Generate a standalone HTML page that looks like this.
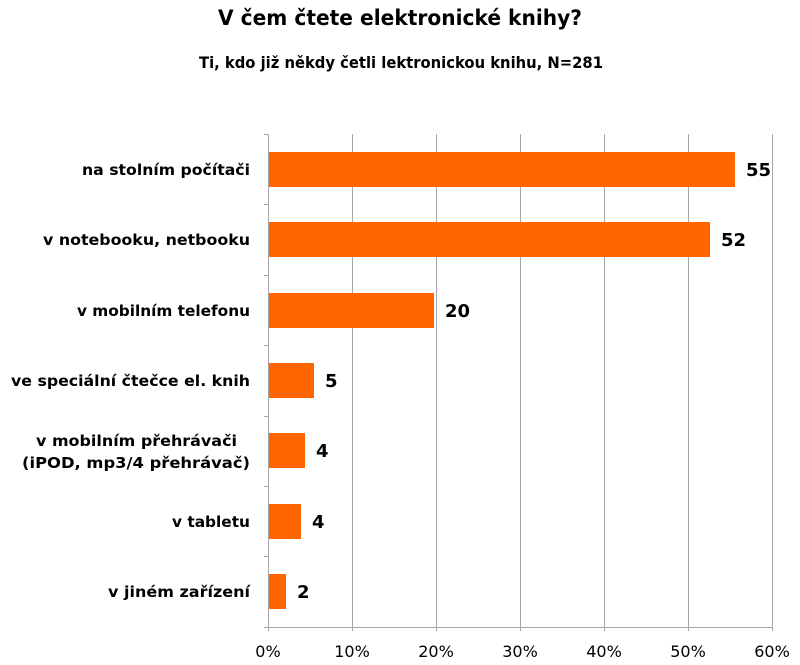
<!DOCTYPE html>
<html><head><meta charset="utf-8"><style>
html,body{margin:0;padding:0;background:#fff;}
svg{display:block;}
text{font-family:"DejaVu Sans","Liberation Sans",sans-serif;font-weight:bold;fill:#000;}
</style></head><body>
<svg width="800" height="665" viewBox="0 0 800 665" xmlns="http://www.w3.org/2000/svg">
<text x="400" y="25" text-anchor="middle" font-size="21" textLength="364" lengthAdjust="spacingAndGlyphs">V čem čtete elektronické knihy?</text>
<text x="401" y="68" text-anchor="middle" font-size="16" textLength="404" lengthAdjust="spacingAndGlyphs">Ti, kdo již někdy četli lektronickou knihu, N=281</text>
<g stroke="#a6a6a6" stroke-width="1">
<line x1="352.5" y1="134" x2="352.5" y2="627"/>
<line x1="436.5" y1="134" x2="436.5" y2="627"/>
<line x1="520.5" y1="134" x2="520.5" y2="627"/>
<line x1="604.5" y1="134" x2="604.5" y2="627"/>
<line x1="688.5" y1="134" x2="688.5" y2="627"/>
<line x1="772.5" y1="134" x2="772.5" y2="631"/>
<line x1="268.5" y1="134" x2="268.5" y2="631"/>
<line x1="264" y1="627.5" x2="772" y2="627.5"/>
<line x1="264" y1="134.5" x2="268" y2="134.5"/>
<line x1="264" y1="204.5" x2="268" y2="204.5"/>
<line x1="264" y1="275.5" x2="268" y2="275.5"/>
<line x1="264" y1="345.5" x2="268" y2="345.5"/>
<line x1="264" y1="416.5" x2="268" y2="416.5"/>
<line x1="264" y1="486.5" x2="268" y2="486.5"/>
<line x1="264" y1="556.5" x2="268" y2="556.5"/>
<line x1="352.5" y1="627" x2="352.5" y2="631"/>
<line x1="436.5" y1="627" x2="436.5" y2="631"/>
<line x1="520.5" y1="627" x2="520.5" y2="631"/>
<line x1="604.5" y1="627" x2="604.5" y2="631"/>
<line x1="688.5" y1="627" x2="688.5" y2="631"/>
</g>
<g fill="#ff6600">
<rect x="269" y="152" width="466" height="35"/>
<rect x="269" y="222" width="441" height="35"/>
<rect x="269" y="293" width="165" height="35"/>
<rect x="269" y="363" width="45" height="35"/>
<rect x="269" y="433" width="36" height="35"/>
<rect x="269" y="504" width="32" height="35"/>
<rect x="269" y="574" width="17" height="35"/>
</g>
<g font-size="18">
<text x="746" y="176">55</text>
<text x="721" y="246">52</text>
<text x="445" y="317">20</text>
<text x="325" y="387">5</text>
<text x="316" y="457">4</text>
<text x="312" y="528">4</text>
<text x="297" y="598">2</text>
</g>
<g font-size="15" text-anchor="end">
<text x="250" y="175" textLength="168" lengthAdjust="spacingAndGlyphs">na stolním počítači</text>
<text x="250" y="245" textLength="207" lengthAdjust="spacingAndGlyphs">v notebooku, netbooku</text>
<text x="250" y="316" textLength="173" lengthAdjust="spacingAndGlyphs">v mobilním telefonu</text>
<text x="250" y="386" textLength="239" lengthAdjust="spacingAndGlyphs">ve speciální čtečce el. knih</text>
<text x="237" y="446" textLength="201" lengthAdjust="spacingAndGlyphs">v mobilním přehrávači</text>
<text x="250" y="468" textLength="228" lengthAdjust="spacingAndGlyphs">(iPOD, mp3/4 přehrávač)</text>
<text x="250" y="527" textLength="78" lengthAdjust="spacingAndGlyphs">v tabletu</text>
<text x="250" y="597" textLength="142" lengthAdjust="spacingAndGlyphs">v jiném zařízení</text>
</g>
<g font-size="16" text-anchor="middle">
<text x="268" y="657" style="font-weight:normal">0%</text>
<text x="352" y="657" style="font-weight:normal">10%</text>
<text x="436" y="657" style="font-weight:normal">20%</text>
<text x="520" y="657" style="font-weight:normal">30%</text>
<text x="604" y="657" style="font-weight:normal">40%</text>
<text x="688" y="657" style="font-weight:normal">50%</text>
<text x="772" y="657" style="font-weight:normal">60%</text>
</g>
</svg>
</body></html>
